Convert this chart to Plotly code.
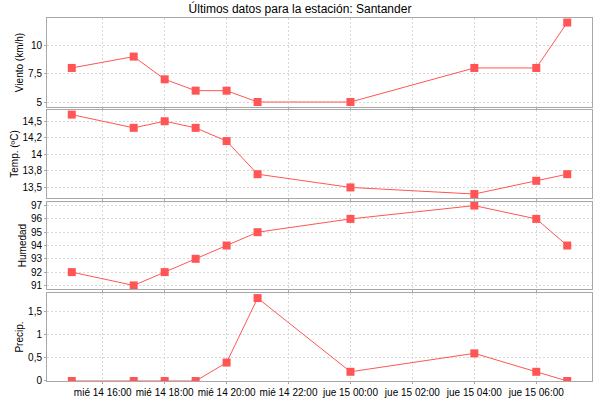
import plotly.graph_objects as go
from plotly.subplots import make_subplots

# observation times (hourly readings, some gaps)
horas = [
    "2015-10-14 15:00", "2015-10-14 17:00", "2015-10-14 18:00",
    "2015-10-14 19:00", "2015-10-14 20:00", "2015-10-14 21:00",
    "2015-10-15 00:00", "2015-10-15 04:00", "2015-10-15 06:00",
    "2015-10-15 07:00",
]
viento = [8, 9, 7, 6, 6, 5, 5, 8, 8, 12]
temp = [14.6, 14.4, 14.5, 14.4, 14.2, 13.7, 13.5, 13.4, 13.6, 13.7]
humedad = [92, 91, 92, 93, 94, 95, 96, 97, 96, 94]
precip = [0, 0, 0, 0, 0.4, 1.8, 0.2, 0.6, 0.2, 0]

# x tick positions / spanish labels
x_ticks = [
    "2015-10-14 16:00", "2015-10-14 18:00", "2015-10-14 20:00",
    "2015-10-14 22:00", "2015-10-15 00:00", "2015-10-15 02:00",
    "2015-10-15 04:00", "2015-10-15 06:00",
]
x_labels = [
    "mié 14 16:00", "mié 14 18:00", "mié 14 20:00", "mié 14 22:00",
    "jue 15 00:00", "jue 15 02:00", "jue 15 04:00", "jue 15 06:00",
]
temp_ticks = [13.5, 13.75, 14.0, 14.25, 14.5]
temp_labels = ["13,5", "13,8", "14", "14,2", "14,5"]

titulo = "Últimos datos para la estación: Santander"
ejes = ["Viento (km/h)", "Temp. (ºC)", "Humedad", "Precip."]

rojo = "#ff5555"
borde = "#a8a8a8"
rejilla = "#d8d8d8"

fig = make_subplots(rows=4, cols=1, shared_xaxes=True)

series = [viento, temp, humedad, precip]
for i, s in enumerate(series):
    fig.add_trace(go.Scatter(
        x=horas, y=s, mode="lines+markers",
        line=dict(color=rojo, width=1),
        marker=dict(symbol="square", size=8, color=rojo),
        showlegend=False,
    ), row=i + 1, col=1)

# panel heights in paper units
dominios = [[0.7548, 1.0], [0.5041, 0.7466], [0.2534, 0.4931], [0.0, 0.2424]]
rangos = [[4.56, 12.4], [13.34, 14.67], [90.73, 97.27], [0, 1.91]]

for i in range(4):
    fig.update_xaxes(
        type="date",
        range=["2015-10-14 14:12", "2015-10-15 07:48"],
        tickvals=x_ticks, ticktext=x_labels,
        showticklabels=(i == 3),
        showline=True, linecolor=borde, linewidth=1, mirror=True,
        ticks="outside", ticklen=2, tickcolor=borde,
        showgrid=True, gridcolor=rejilla, griddash="2px,2px", gridwidth=1,
        tickfont=dict(size=10, color="#000"),
        row=i + 1, col=1,
    )
    fig.update_yaxes(
        domain=dominios[i], range=rangos[i],
        title=dict(text=ejes[i], font=dict(size=10, color="#000"), standoff=2),
        showline=True, linecolor=borde, linewidth=1, mirror=True,
        ticks="outside", ticklen=2, tickcolor=borde,
        showgrid=True, gridcolor=rejilla, griddash="2px,2px", gridwidth=1,
        zeroline=False,
        tickfont=dict(size=10, color="#000"),
        row=i + 1, col=1,
    )

fig.update_yaxes(dtick=2.5, row=1, col=1)
fig.update_yaxes(tickvals=temp_ticks, ticktext=temp_labels, row=2, col=1)
fig.update_yaxes(dtick=1, row=3, col=1)
fig.update_yaxes(dtick=0.5, row=4, col=1)

fig.update_layout(
    width=600, height=400,
    margin=dict(l=47, r=8, t=18, b=19, autoexpand=False),
    paper_bgcolor="white", plot_bgcolor="white",
    separators=",.",
    font=dict(family="Liberation Sans, Arial, sans-serif", size=10),
    title=dict(text=titulo, x=0.5, xanchor="center", y=1 - 9 / 400,
               yanchor="middle", font=dict(size=12, color="#000")),
)

# page body has a default 8px margin; drop it so the chart sits at 0,0
fig.write_html("out.html", config={"displayModeBar": False},
               post_script="document.body.style.margin='0';")
